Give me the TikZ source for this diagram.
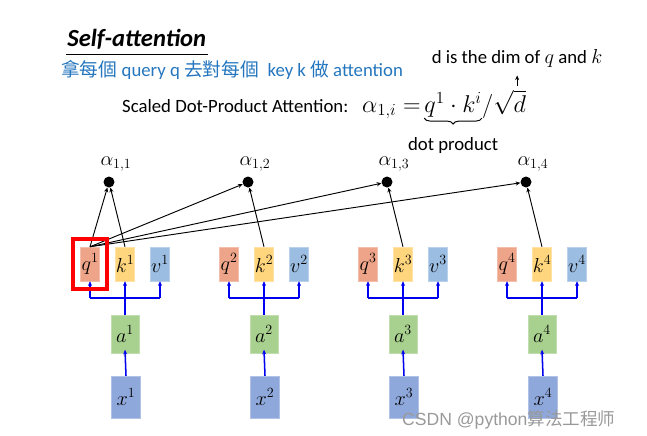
\documentclass[tikz,border=0pt]{standalone}
\usepackage{fontspec}
\setmainfont{Carlito}
\newfontfamily\cjk{Noto Sans CJK TC}
\newfontfamily\cjksc{Noto Sans CJK SC}
\newfontfamily\markfont{Liberation Sans}
\usetikzlibrary{arrows.meta,positioning,fit,calc,decorations.pathreplacing}

\definecolor{qfill}{RGB}{238,164,136}
\definecolor{kfill}{RGB}{255,214,125}
\definecolor{vfill}{RGB}{156,189,226}
\definecolor{afill}{RGB}{168,208,142}
\definecolor{xfill}{RGB}{143,168,220}
\definecolor{slideblue}{RGB}{36,118,190}
\definecolor{feedblue}{RGB}{0,0,240}

\tikzset{
  vecbox/.style={minimum width=0.57cm, minimum height=1.02cm, inner sep=0pt,
    font=\fontsize{17}{20}\selectfont},
  qbox/.style={vecbox, fill=qfill, draw=qfill!70!white},
  kbox/.style={vecbox, fill=kfill, draw=kfill!70!white},
  vbox/.style={vecbox, fill=vfill, draw=vfill!70!white},
  abox/.style={minimum width=0.84cm, minimum height=1.14cm, inner sep=0pt,
    fill=afill, draw=afill!70!white, font=\fontsize{17}{20}\selectfont},
  xbox/.style={minimum width=0.87cm, minimum height=1.26cm, inner sep=0pt,
    fill=xfill, draw=xfill!70!white, font=\fontsize{17}{20}\selectfont},
  dot/.style={circle, fill=black, minimum size=0.33cm, inner sep=0pt},
  attn/.style={thick, -{Stealth[length=4pt,width=3.5pt]}},
  feed/.style={feedblue, line width=1.3pt, -{Stealth[length=4pt,width=3.5pt]}},
  feedline/.style={feedblue, line width=1.3pt},
  txt/.style={font=\fontsize{16}{19}\selectfont, inner sep=0pt}
}

\begin{document}
\begin{tikzpicture}[x=0.03cm, y=-0.03cm]
  \useasboundingbox (0,0) rectangle (647,435);

  % heading
  \node[anchor=base west, inner xsep=1pt, inner ysep=5pt,
    font=\fontsize{21}{24}\bfseries\itshape\selectfont] (title) at (66,46) {Self-attention};
  \draw[thick] (title.south west) -- (title.south east);
  \node[txt, anchor=base west, text=slideblue] (subtitle) at (61,76)
    {{\cjk 拿每個} query q {\cjk 去對每個}\ \ key k {\cjk 做} attention};

  % formula
  \node[txt, anchor=base west] (scaled) at (122,112) {Scaled Dot-Product Attention:};
  \node[anchor=base west, inner sep=0pt, font=\fontsize{19.5}{23}\selectfont]
    (alphai) at (362,112) {$\alpha_{1,i} =$};
  \node[anchor=base west, inner sep=0pt, font=\fontsize{19.5}{23}\selectfont]
    (qk) at ([xshift=0.1cm]alphai.base east) {$q^1\cdot k^i$};
  \node[anchor=base west, inner sep=0pt, font=\fontsize{19.5}{23}\selectfont]
    (sqrtd) at (qk.base east) {$/\sqrt{d}$};
  \draw[thick, decorate, decoration={brace, mirror, amplitude=5pt}]
    ([yshift=-1pt]qk.south west) -- ([yshift=-1pt]qk.south east);
  \node[txt, below=0.62cm of qk.south] (dotprod) {dot product};
  \node[txt, anchor=base] (dimnote) at (517,63) {d is the dim of $q$ and $k$};
  \coordinate (dtip) at ($(sqrtd.north east)+(-9,-3)$);
  \draw[thick, -{Stealth[length=4pt,width=3.5pt]}] (dtip) -- ++(0,-11);

  % four inputs
  \foreach \i in {1,...,4} {
    \pgfmathsetmacro\xk{125+139*(\i-1)}
    \node[qbox] (q\i) at (\xk-35,264) {$q^{\i}$};
    \node[kbox] (k\i) at (\xk,264) {$k^{\i}$};
    \node[vbox] (v\i) at (\xk+35,264) {$v^{\i}$};
    \node[abox] (a\i) at (\xk,334) {$a^{\i}$};
    \node[xbox] (x\i) at (\xk+1,397) {$x^{\i}$};
    \node[dot] (d\i) at (\xk-16,182) {};
    \node[font=\fontsize{16.5}{19}\selectfont, inner sep=0pt] (l\i) at (\xk-9,164) {$\alpha_{1,\i}$};
    \coordinate (b\i) at (\xk,298);
    \draw[feed] (x\i.north) -- ([yshift=3pt]a\i.south);
    \draw[feed] (a\i.north) -- (k\i.south);
    \draw[feedline] (b\i -| q\i.south) -- (b\i -| v\i.south);
    \draw[feed] (b\i -| q\i.south) -- (q\i.south);
    \draw[feed] (b\i -| v\i.south) -- (v\i.south);
    \draw[attn] (k\i.north) -- (d\i);
    \draw[attn] (q1.north) -- (d\i);
  }

  % highlight the query
  \node[draw=red, line width=3.5pt, fit=(q1), inner xsep=6pt, inner ysep=7pt] (focus) {};

  % watermark
  \node[anchor=base west, inner sep=0pt, text=black!40, font=\fontsize{15}{18}\markfont]
    (mark) at (402,425) {CSDN @python{\cjksc 算法工程师}};
\end{tikzpicture}
\end{document}
